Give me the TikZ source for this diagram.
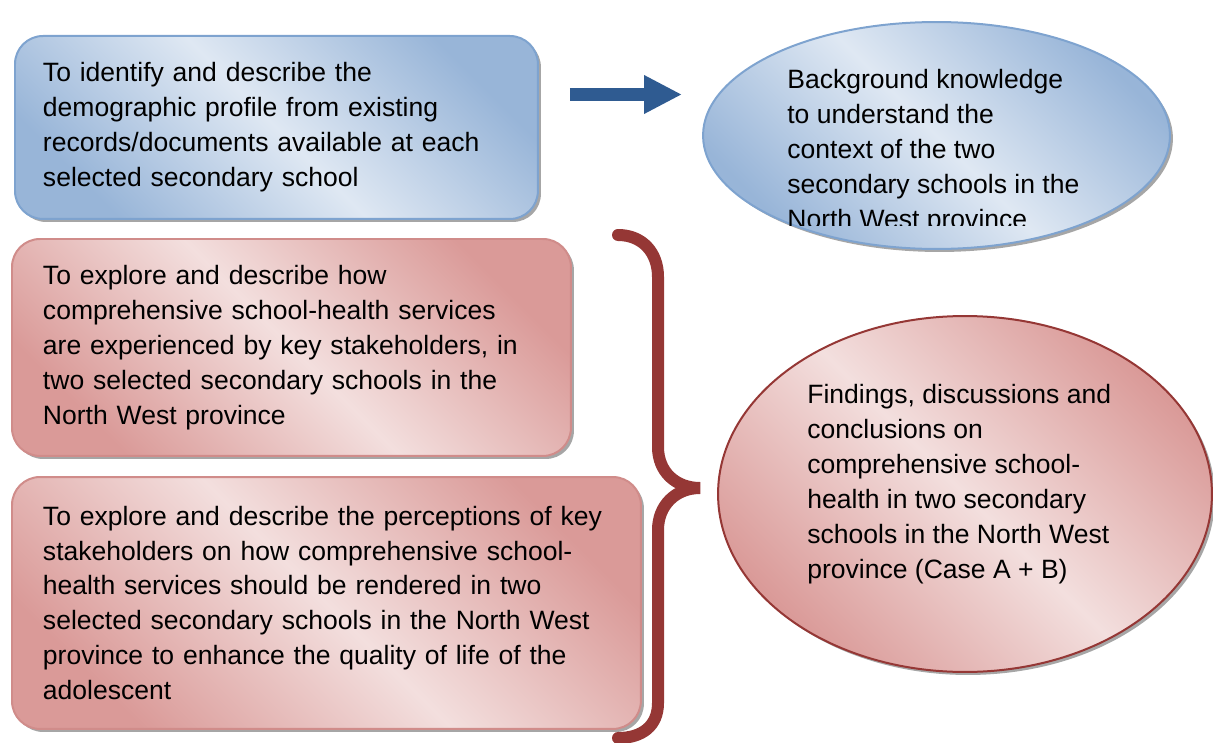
\documentclass[tikz,border=0pt]{standalone}
\usepackage{fontspec}
\setmainfont{Liberation Sans}
\usetikzlibrary{arrows.meta, positioning, shapes.geometric, shadows}
\definecolor{OBJBLUE}{HTML}{98B5D8}
\definecolor{OBJBLUELT}{HTML}{DFE8F3}
\definecolor{OBJBLUELINE}{HTML}{7EA3CF}
\definecolor{OBJRED}{HTML}{DA9A98}
\definecolor{OBJREDLT}{HTML}{F3DFDE}
\definecolor{OBJREDLINE}{HTML}{D08C8A}
\definecolor{BRACERED}{HTML}{953735}
\definecolor{ARROWBLUE}{HTML}{2F5B91}

\begin{document}
\begin{tikzpicture}[x=0.02cm, y=-0.02cm,
          box/.style={rectangle, rounded corners=0.56cm, align=left, anchor=north west,
                      inner ysep=0pt, line width=0.04cm,
                      font=\fontsize{15.1}{19.9}\selectfont,
                      drop shadow={shadow xshift=0.06cm, shadow yshift=-0.06cm,
                                   fill=black, opacity=0.35}},
          oval/.style={ellipse, inner sep=0pt, line width=0.04cm,
                       drop shadow={shadow xshift=0.06cm, shadow yshift=-0.06cm,
                                    fill=black, opacity=0.35}},
          txt/.style={align=left, anchor=north west, inner sep=0pt,
                      font=\fontsize{15.1}{19.9}\selectfont},
          blueshade/.style={draw=OBJBLUELINE, top color=OBJBLUE, bottom color=OBJBLUE,
                            middle color=OBJBLUELT, shading angle=-45},
          redshade/.style={draw=OBJREDLINE, top color=OBJRED, bottom color=OBJRED,
                           middle color=OBJREDLT, shading angle=-45},
          arr/.style={-{Triangle[length=0.76cm, width=0.72cm]}, line width=0.26cm, ARROWBLUE,
                      shorten <=0.62cm, shorten >=0.4cm},
          curly/.style={line width=0.24cm, BRACERED, line cap=round}
        ]
          \useasboundingbox (0,0) rectangle (1213,743);
          % objectives
          \node[box, blueshade, inner xsep=0.56cm, text width=9.34cm, minimum height=3.66cm]
            (demog) at (14,35) {To identify and describe the\\demographic profile from existing\\records/documents available at each\\selected secondary school};
          \node[box, redshade, inner xsep=0.62cm, text width=9.94cm, minimum height=4.34cm]
            (experience) at (11,238) {To explore and describe how\\comprehensive school-health services\\are experienced by key stakeholders, in\\two selected secondary schools in the\\North West province};
          \node[box, redshade, inner xsep=0.62cm, text width=11.34cm, minimum height=5.04cm]
            (perception) at (11,476) {To explore and describe the perceptions of key\\stakeholders on how comprehensive school-\\health services should be rendered in two\\selected secondary schools in the North West\\province to enhance the quality of life of the\\adolescent};
          % outcomes
          \node[oval, blueshade, draw=OBJBLUELINE, minimum width=9.34cm, minimum height=4.54cm]
            (bgell) at (936.5,135.5) {};
          \begin{scope}
            \clip (700,0) rectangle (1213,226);
            \node[txt] (bgtext) at (787,69) {Background knowledge\\to understand the\\context of the two\\secondary schools in the\\North West province};
          \end{scope}
          \node[oval, redshade, draw=BRACERED, minimum width=9.88cm, minimum height=7.12cm]
            (findell) at (965,494) {};
          \node[txt] (findtext) at (807,384) {Findings, discussions and\\conclusions on\\comprehensive school-\\health in two secondary\\schools in the North West\\province (Case A + B)};
          % links
          \draw[arr] (demog.east |- 0,94.5) -- (bgell.west |- 0,94.5);
          \draw[curly] (618,235) .. controls (642,235) and (658,252) .. (658,277) -- (658,447)
            .. controls (658,472) and (676,488) .. (700,488)
            .. controls (676,488) and (658,505) .. (658,530) -- (658,703)
            .. controls (658,726) and (642,738) .. (618,738);
        \end{tikzpicture}
\end{document}
